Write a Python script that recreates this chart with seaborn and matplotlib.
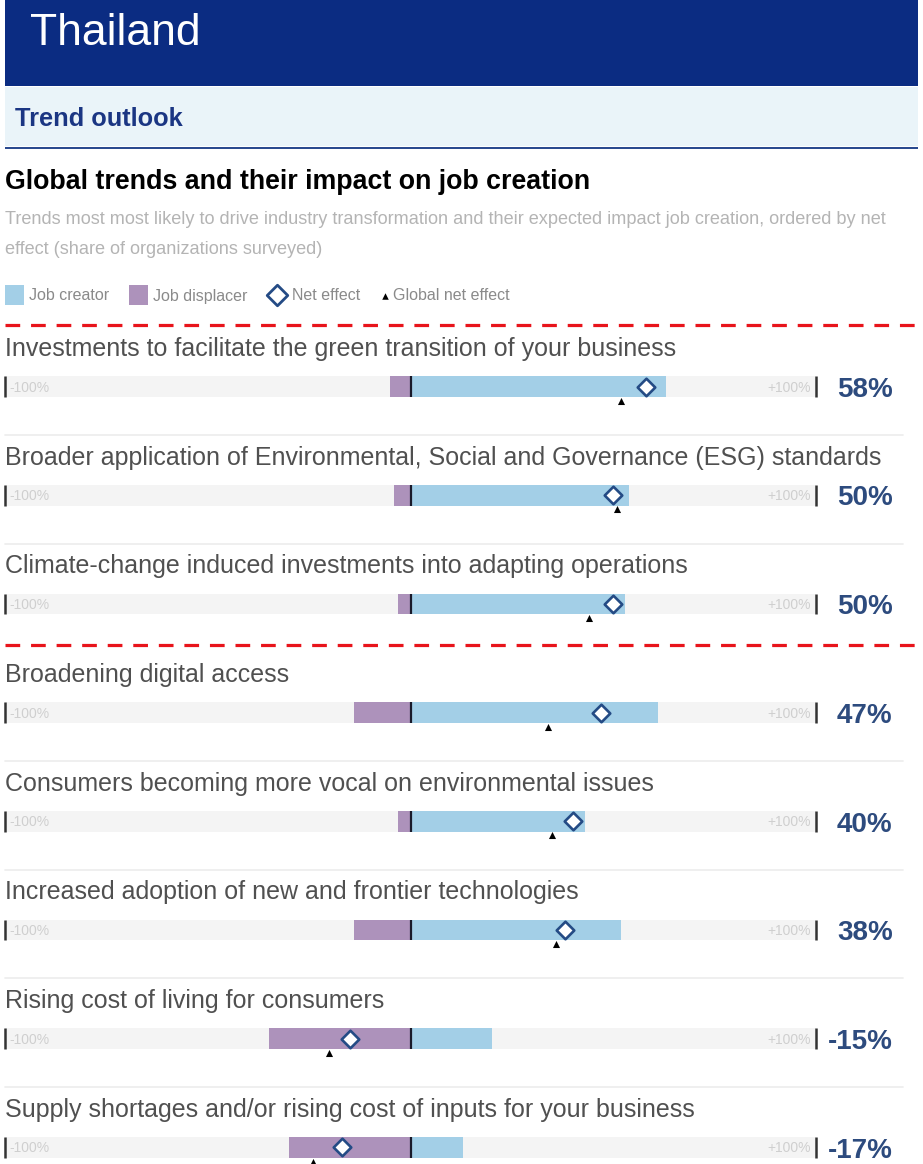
import matplotlib
matplotlib.use("Agg")
import matplotlib.pyplot as plt
from matplotlib.patches import Rectangle
import seaborn as sns
import pandas as pd

# ---------------- data ----------------
trends = [
    "Investments to facilitate the green transition of your business",
    "Broader application of Environmental, Social and Governance (ESG) standards",
    "Climate-change induced investments into adapting operations",
    "Broadening digital access",
    "Consumers becoming more vocal on environmental issues",
    "Increased adoption of new and frontier technologies",
    "Rising cost of living for consumers",
    "Supply shortages and/or rising cost of inputs for your business",
]
job_creator = [63, 54, 53, 61, 43, 52, 20, 13]
job_displacer = [-5, -4, -3, -14, -3, -14, -35, -30]
net_effect = [58, 50, 50, 47, 40, 38, -15, -17]
global_net = [52, 51, 44, 34, 35, 36, -20, -24]
net_labels = ["58%", "50%", "50%", "47%", "40%", "38%", "-15%", "-17%"]
SCALE = 100

df = pd.DataFrame({
    "trend": trends,
    "creator": job_creator,
    "displacer": job_displacer,
    "net": net_effect,
    "global": global_net,
})

# ---------------- style ----------------
sns.set_theme(style="white")
plt.rcParams["font.family"] = ["Liberation Sans", "DejaVu Sans"]

W, H = 923, 1164
fig = plt.figure(figsize=(W / 100, H / 100), dpi=100)
fig.patch.set_facecolor("white")

NAVY = "#0b2c82"
CREATOR = "#a3cfe7"
DISPLACER = "#ad92bb"
DIAMOND = "#244b85"
PCT = "#2d4b7e"
BG = "#f4f4f4"


def fy(py):
    return 1 - py / H


def fx(px):
    return px / W


# header bands
fig.patches.append(Rectangle((fx(5), fy(86)), fx(913), 86 / H, transform=fig.transFigure,
                             facecolor=NAVY, edgecolor="none", zorder=0))
fig.patches.append(Rectangle((fx(5), fy(146)), fx(913), 59 / H, transform=fig.transFigure,
                             facecolor="#eaf4f9", edgecolor="none", zorder=0))
fig.patches.append(Rectangle((fx(5), fy(149)), fx(913), 2.5 / H, transform=fig.transFigure,
                             facecolor="#2a4a8f", edgecolor="none", zorder=0))
fig.text(fx(30), fy(45), "Thailand", color="white", fontsize=32, va="baseline", ha="left")
fig.text(fx(15), fy(126), "Trend outlook", color="#1b3683", fontsize=18.3, fontweight="bold",
         va="baseline", ha="left")

# title and subtitle
fig.text(fx(5), fy(189), "Global trends and their impact on job creation", color="black",
         fontsize=19.3, fontweight="bold", va="baseline", ha="left")
fig.text(fx(5), fy(220), "Trends most most likely to drive industry transformation and their expected "
         "impact job creation, ordered by net", color="#b4b4b4", fontsize=13.05, va="center", ha="left")
fig.text(fx(5), fy(249), "effect (share of organizations surveyed)", color="#b4b4b4",
         fontsize=13.05, va="center", ha="left")

# ---------------- main axes ----------------
ROW0 = 386.5
STEP = 108.7
ytop = -0.62
ybot = (H - ROW0) / STEP
ax = fig.add_axes([fx(5), 0, fx(811), (H - (ROW0 + ytop * STEP)) / H])
ax.set_facecolor("none")

BW = 0.19
sns.barplot(data=df.assign(bg=SCALE), x="bg", y="trend", color=BG, saturation=1,
            width=BW, linewidth=0, errorbar=None, ax=ax, orient="h")
sns.barplot(data=df.assign(bg=-SCALE), x="bg", y="trend", color=BG, saturation=1,
            width=BW, linewidth=0, errorbar=None, ax=ax, orient="h")
sns.barplot(data=df, x="creator", y="trend", color=CREATOR, saturation=1,
            width=BW, linewidth=0, errorbar=None, ax=ax, orient="h")
sns.barplot(data=df, x="displacer", y="trend", color=DISPLACER, saturation=1,
            width=BW, linewidth=0, errorbar=None, ax=ax, orient="h")

n = len(trends)
rows = list(range(n))
half = BW / 2
ax.vlines([0] * n, [r - half for r in rows], [r + half for r in rows], color="#1a1a2a", lw=1.6, zorder=4)
ax.vlines([-SCALE] * n, [r - half for r in rows], [r + half for r in rows], color="#333333", lw=1.8,
          zorder=4, clip_on=False)
ax.vlines([SCALE] * n, [r - half for r in rows], [r + half for r in rows], color="#333333", lw=1.8,
          zorder=4, clip_on=False)

sns.scatterplot(data=df, x="net", y="trend", marker="D", s=80, color="white", edgecolor=DIAMOND,
                linewidth=1.9, zorder=6, ax=ax)
ax.scatter(df["global"], [r + 0.13 for r in rows], marker="^", s=26, color="black", zorder=6,
           clip_on=False, linewidths=0)

for r in rows:
    ax.text(-SCALE, r - 0.345, trends[r], fontsize=18, color="#505050", va="center", ha="left")
    ax.text(-98.8, r + 0.01, "-100%", fontsize=10, color="#cfcfcf", va="center", ha="left", zorder=5)
    ax.text(98.8, r + 0.01, "+100%", fontsize=10, color="#cfcfcf", va="center", ha="right", zorder=5)
    ax.text(118.9, r + 0.03, net_labels[r], fontsize=20, color=PCT, fontweight="bold",
            va="center", ha="right", clip_on=False)
    if r in (0, 1, 3, 4, 5, 6):
        ax.plot([-SCALE, 121.5], [r + 0.446, r + 0.446], color="#eeeeee", lw=1.3, clip_on=False, zorder=1)

for yv in (-0.566, 2.378):
    ax.plot([-SCALE, 125.2], [yv, yv], color="#e8141b", lw=2.3, ls=(0, (4.6, 3.4)),
            clip_on=False, zorder=3, solid_capstyle="butt", dash_capstyle="butt")

ax.set_xlim(-SCALE, SCALE)
ax.set_ylim(ybot, ytop)
ax.set_xticks([])
ax.set_yticks([])
ax.set_xlabel("")
ax.set_ylabel("")
for s in ax.spines.values():
    s.set_visible(False)
if ax.get_legend() is not None:
    ax.get_legend().remove()

# ---------------- legend ----------------
LY = 295
LB = 300.5
fig.patches.append(Rectangle((fx(5), fy(LY + 9.5)), 19 / W, 19 / H, transform=fig.transFigure,
                             facecolor=CREATOR, edgecolor="none"))
fig.text(fx(29), fy(LB), "Job creator", color="#8a8a8a", fontsize=11.5, va="baseline", ha="left")
fig.patches.append(Rectangle((fx(129), fy(LY + 9.5)), 19 / W, 19 / H, transform=fig.transFigure,
                             facecolor=DISPLACER, edgecolor="none"))
fig.text(fx(153), fy(LB), "Job displacer", color="#8a8a8a", fontsize=11.5, va="baseline", ha="left")
lax = fig.add_axes([0, 0, 1, 1], facecolor="none")
lax.set_xlim(0, W)
lax.set_ylim(H, 0)
lax.axis("off")
lax.scatter([277], [LY], marker="D", s=110, color="white", edgecolor=DIAMOND, linewidths=2)
fig.text(fx(292), fy(LB), "Net effect", color="#8a8a8a", fontsize=11.5, va="baseline", ha="left")
lax.scatter([385], [LY + 1], marker="^", s=22, color="black", linewidths=0)
fig.text(fx(393), fy(LB), "Global net effect", color="#8a8a8a", fontsize=11.5, va="baseline", ha="left")

fig.savefig("out.png", dpi=100, facecolor="white")
